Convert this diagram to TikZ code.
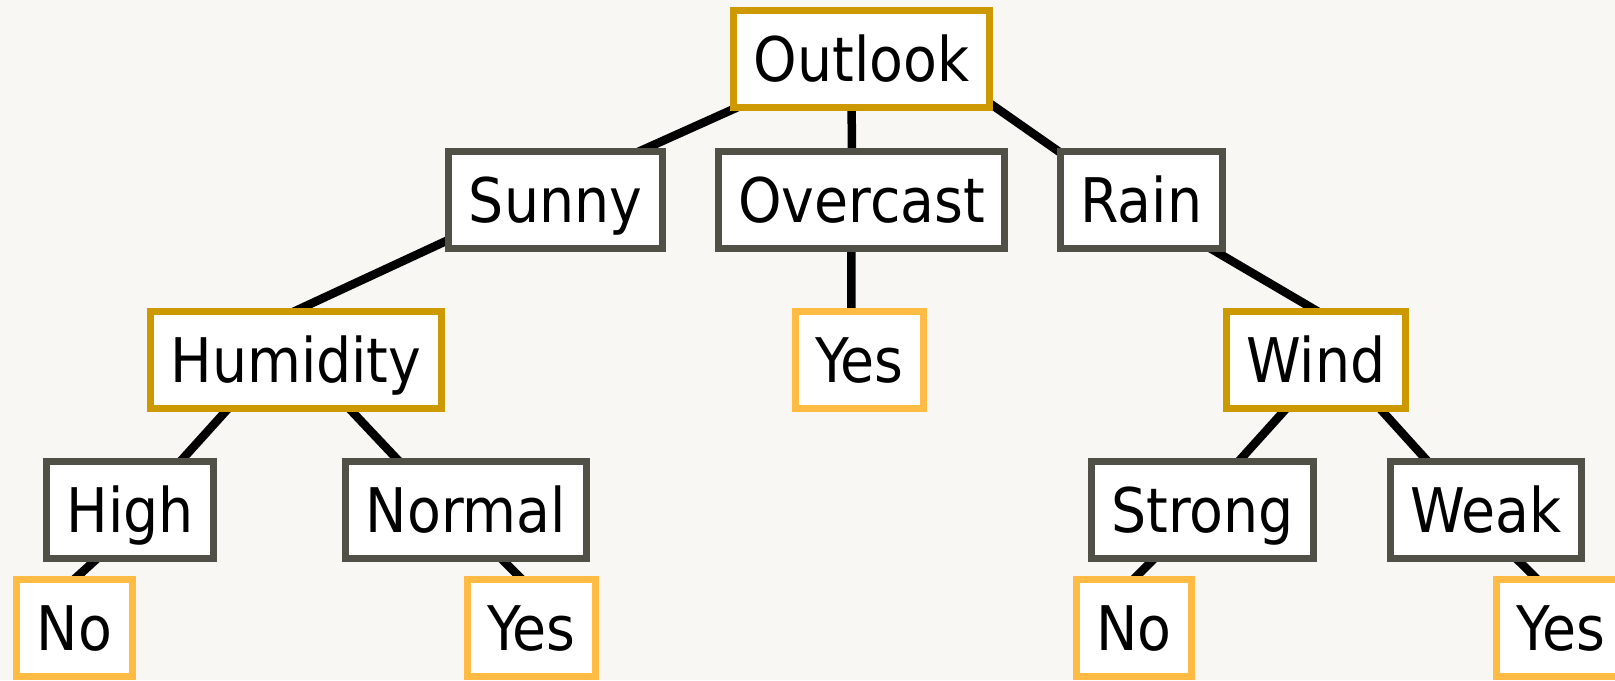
\documentclass[tikz,border=0pt]{standalone}
\usepackage{fontspec}
\setmainfont{DejaVu Sans Condensed}
\usetikzlibrary{positioning, backgrounds}

\definecolor{attrgold}{RGB}{204,153,0}
\definecolor{valgray}{RGB}{80,80,70}
\definecolor{leafyellow}{RGB}{255,187,68}
\definecolor{paper}{RGB}{249,247,243}

\begin{document}
\begin{tikzpicture}[
    box/.style={draw, rectangle, fill=white, line width=0.07cm, minimum height=0.97cm,
        inner xsep=0.2cm, text height=12.8pt, text depth=0pt, font=\fontsize{17.5}{21}\selectfont},
    attrbox/.style={box, draw=attrgold},
    valbox/.style={box, draw=valgray},
    leafbox/.style={box, draw=leafyellow},
    branch/.style={line width=0.085cm, black}
]
    \useasboundingbox (0,0) rectangle (16.15,6.8);
    \begin{scope}[on background layer]
        \fill[paper] (0,0) rectangle (16.15,6.8);
    \end{scope}

    % root and its three values
    \node (outlook) [attrbox] at (8.615,6.21) {Outlook};
    \node (overcast) [valbox, below=0.37cm of outlook] {Overcast};
    \node (sunny) [valbox, below=0.37cm of outlook, xshift=-3.06cm] {Sunny};
    \node (rain) [valbox, below=0.37cm of outlook, xshift=2.80cm] {Rain};

    % second level
    \node (humidity) [attrbox, below=0.56cm of sunny, xshift=-2.595cm] {Humidity};
    \node (yesmid) [leafbox, below=0.56cm of overcast, xshift=-0.02cm] {Yes};
    \node (wind) [attrbox, below=0.56cm of rain, xshift=1.745cm] {Wind};

    \node (high) [valbox, below=0.46cm of humidity, xshift=-1.66cm] {High};
    \node (normal) [valbox, below=0.46cm of humidity, xshift=1.70cm] {Normal};
    \node (strong) [valbox, below=0.46cm of wind, xshift=-1.133cm] {Strong};
    \node (weak) [valbox, below=0.46cm of wind, xshift=1.697cm] {Weak};

    % leaves
    \node (nohigh) [leafbox, below=0.14cm of high, xshift=-0.555cm] {No};
    \node (yesnormal) [leafbox, below=0.14cm of normal, xshift=0.653cm] {Yes};
    \node (nostrong) [leafbox, below=0.14cm of strong, xshift=-0.689cm] {No};
    \node (yesweak) [leafbox, below=0.14cm of weak, xshift=0.751cm] {Yes};

    % branches run behind the boxes
    \begin{scope}[on background layer]
        \draw[branch] ([xshift=-0.165cm]outlook.center) -- ([xshift=-0.245cm]sunny.center);
        \draw[branch] ([xshift=-0.10cm]outlook.center) -- ([xshift=-0.095cm]overcast.center);
        \draw[branch] ([xshift=0.65cm]outlook.center) -- ([xshift=-0.135cm]rain.center);
        \draw[branch] ([xshift=-0.10cm]overcast.center) -- ([xshift=-0.082cm]yesmid.center);
        \draw[branch] ([xshift=-0.21cm]sunny.center) -- ([xshift=-1.065cm]humidity.center);
        \draw[branch] ([xshift=-0.135cm]rain.center) -- ([xshift=0.495cm,yshift=0.205cm]wind.center);
        \draw[branch] ([xshift=-0.24cm]humidity.center) -- ([xshift=0.065cm]high.center);
        \draw[branch] ([xshift=0.075cm]humidity.center) -- ([xshift=-0.21cm]normal.center);
        \draw[branch] ([xshift=0.14cm]wind.center) -- ([xshift=-0.08cm]strong.center);
        \draw[branch] ([xshift=0.20cm]wind.center) -- ([xshift=-0.14cm]weak.center);
        \draw[branch] ([xshift=0.207cm]high.center) -- ([xshift=-0.54cm]nohigh.center);
        \draw[branch] ([xshift=-0.135cm]normal.center) -- ([xshift=0.395cm]yesnormal.center);
        \draw[branch] (strong.center) -- ([xshift=-0.49cm]nostrong.center);
        \draw[branch] ([xshift=-0.18cm]weak.center) -- ([xshift=0.25cm]yesweak.center);
    \end{scope}
\end{tikzpicture}
\end{document}
